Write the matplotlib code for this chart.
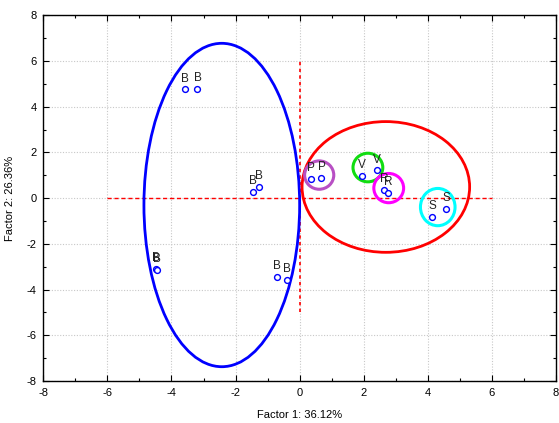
import matplotlib
matplotlib.use("Agg")
import matplotlib.pyplot as plt
from matplotlib.patches import Ellipse
from matplotlib.ticker import MultipleLocator

plt.rcParams['font.family'] = ['Liberation Sans', 'DejaVu Sans']
plt.rcParams['axes.unicode_minus'] = False

# data points
labels = ["B", "B", "B", "B", "B", "B", "B", "B",
          "P", "P", "V", "V", "R", "R", "S", "S"]
x_vals = [-3.58, -3.19, -1.45, -1.26, -4.49, -4.45, -0.70, -0.40,
          0.36, 0.68, 1.95, 2.40, 2.63, 2.75, 4.13, 4.58]
y_vals = [4.76, 4.79, 0.28, 0.48, -3.09, -3.14, -3.45, -3.57,
          0.83, 0.89, 0.99, 1.21, 0.36, 0.22, -0.83, -0.48]

# group ellipses: center x, center y, width, height, colour
ell_cx = [-2.43, 2.69, 0.61, 2.13, 2.78, 4.31]
ell_cy = [-0.30, 0.49, 1.01, 1.34, 0.44, -0.39]
ell_w = [4.86, 5.23, 0.91, 0.93, 0.93, 1.08]
ell_h = [14.15, 5.72, 1.24, 1.25, 1.28, 1.63]
ell_col = ["#0000ff", "#ff0000", "#b84fc4", "#11dd11", "#ff00ff", "#00ffff"]

ticks = [-8, -6, -4, -2, 0, 2, 4, 6, 8]

fig = plt.figure(figsize=(5.59, 4.23), dpi=100)
ax = fig.add_axes([0.0775, 0.0993, 0.9171, 0.8645])

ax.set_xlim(-8, 8)
ax.set_ylim(-8, 8)
ax.set_xticks(ticks)
ax.set_yticks(ticks)
ax.xaxis.set_minor_locator(MultipleLocator(1))
ax.yaxis.set_minor_locator(MultipleLocator(1))
ax.tick_params(which='both', direction='in', top=True, right=True, labelsize=8)
ax.tick_params(which='major', length=4, width=0.8, pad=5)
ax.tick_params(which='minor', length=2.5, width=0.8)
ax.grid(True, which='major', color='#c8c8c8', linestyle=(0, (1, 1.5)), linewidth=0.8)
ax.set_axisbelow(True)
for s in ax.spines.values():
    s.set_linewidth(1.0)

# reference lines
ax.plot([-6, 6], [0, 0], color='#ff0000', linewidth=1.0, dashes=(3, 2), zorder=2)
ax.plot([0, 0], [-5, 6], color='#ff0000', linewidth=1.2, dashes=(2, 2), zorder=2)

for cx, cy, w, h, c in zip(ell_cx, ell_cy, ell_w, ell_h, ell_col):
    lw = 2.0 if w > 3 else 2.2
    ax.add_patch(Ellipse((cx, cy), w, h, fill=False, edgecolor=c, linewidth=lw, zorder=3))

ax.plot(x_vals, y_vals, linestyle='none', marker='o', markersize=4.2,
        markerfacecolor='white', markeredgecolor='#0000ff', markeredgewidth=1.0, zorder=4)

for lab, xv, yv in zip(labels, x_vals, y_vals):
    ax.annotate(lab, (xv, yv), xytext=(0, 3.5), textcoords='offset points',
                ha='center', va='bottom', fontsize=8.5, color='#222222', zorder=5)

ax.set_xlabel("Factor 1: 36.12%", fontsize=8, labelpad=9)
ax.set_ylabel("Factor 2: 26.36%", fontsize=8, labelpad=8)

fig.savefig("out.png", dpi=100)
